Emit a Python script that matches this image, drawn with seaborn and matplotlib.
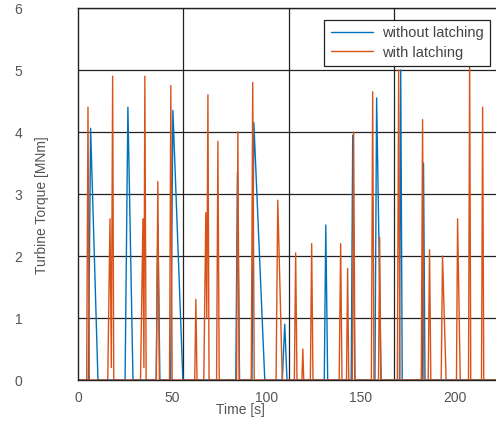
import matplotlib
matplotlib.use("Agg")
import matplotlib.pyplot as plt
from matplotlib.ticker import MultipleLocator
import seaborn as sns
import pandas as pd

# with latching: spike vertices
t_with = [0, 4.6, 5.3, 6.0, 15.8, 17.0, 17.7, 18.4, 19.0, 33.2, 34.5, 35.0, 35.5, 36.2,
          41.6, 42.4, 43.2, 48.6, 49.3, 50.0, 62.0, 62.6, 63.2, 66.8, 67.9, 68.4, 69.0, 69.6,
          73.6, 74.3, 75.0, 84.2, 84.9, 85.6, 92.0, 92.8, 93.6, 105.2, 106.1, 108.5,
          114.9, 115.6, 116.3, 118.9, 119.4, 119.9, 123.4, 124.1, 124.8, 138.7, 139.5, 140.2,
          142.6, 143.2, 143.8, 145.7, 146.4, 147.1, 155.8, 156.5, 157.2, 159.6, 160.2, 160.8,
          169.6, 170.3, 171.0, 182.3, 183.0, 183.7, 186.0, 186.7, 187.4, 192.9, 193.6, 195.5,
          201.0, 201.6, 203.0, 207.4, 208.0, 208.6, 214.3, 214.9, 215.5, 222]
v_with = [0, 0, 4.4, 0, 0, 2.6, 0.2, 4.9, 0, 0, 2.6, 0.2, 4.9, 0,
          0, 3.2, 0, 0, 4.75, 0, 0, 1.3, 0, 0, 2.7, 1.0, 4.6, 0,
          0, 3.85, 0, 0, 4.0, 0, 0, 4.8, 0, 0, 2.9, 0,
          0, 2.05, 0, 0, 0.5, 0, 0, 2.2, 0, 0, 2.2, 0,
          0, 1.8, 0, 0, 4.0, 0, 0, 4.65, 0, 0, 2.3, 0,
          0, 5.0, 0, 0, 4.2, 0, 0, 2.1, 0, 0, 2.0, 0,
          0, 2.6, 0, 0, 5.15, 0, 0, 4.4, 0, 0]

# without latching
t_without = [0, 5.5, 6.7, 10.6, 25.0, 26.5, 29.2, 41.5, 42.4, 43.5, 49.2, 50.4, 55.7,
             83.8, 84.7, 85.8, 92.4, 93.4, 99.2, 108.5, 109.8, 111.0, 130.8, 131.6, 132.6,
             145.1, 145.9, 147.0, 157.7, 158.6, 161.0, 170.7, 171.4, 172.2, 182.8, 183.5, 184.3, 222]
v_without = [0, 0, 4.06, 0, 0, 4.4, 0, 0, 2.5, 0, 0, 4.35, 0,
             0, 3.35, 0, 0, 4.15, 0, 0, 0.9, 0, 0, 2.5, 0,
             0, 3.95, 0, 0, 4.55, 0, 0, 5.0, 0, 0, 3.5, 0, 0]

series_names = ["without latching", "with latching"]
colors = ["#0072BD", "#D95319"]
x_ticks = [0, 50, 100, 150, 200]
y_ticks = [0, 1, 2, 3, 4, 5, 6]

df = pd.concat([
    pd.DataFrame({"Time": t_without, "Torque": v_without, "case": series_names[0]}),
    pd.DataFrame({"Time": t_with, "Torque": v_with, "case": series_names[1]}),
], ignore_index=True)

sns.set_style("white")
plt.rcParams["font.family"] = ["Liberation Sans", "DejaVu Sans"]

fig = plt.figure(figsize=(4.96, 4.32), dpi=100)
ax = fig.add_axes([78 / 496, 52 / 432, 418 / 496, 372 / 432])

sns.lineplot(
    data=df,
    x="Time",
    y="Torque",
    hue="case",
    hue_order=series_names,
    palette=colors,
    sort=False,
    estimator=None,
    linewidth=1.0,
    ax=ax
)

ax.set_xlim(0, 222)
ax.set_ylim(0, 6)
ax.set_xticks(x_ticks)
ax.set_yticks(y_ticks)
ax.xaxis.set_minor_locator(MultipleLocator(56))
ax.grid(True, which="major", axis="y", color="#222222", linewidth=0.9)
ax.grid(True, which="minor", axis="x", color="#222222", linewidth=0.9)
ax.tick_params(axis="both", which="both", length=0, labelsize=10, labelcolor="#555555")
ax.tick_params(axis="y", pad=40)
ax.tick_params(axis="x", pad=8)

for side in ["left", "bottom", "top"]:
    ax.spines[side].set_color("#222222")
    ax.spines[side].set_linewidth(1.0)
ax.spines["right"].set_visible(False)

ax.set_xlabel("Time [s]", fontsize=10, color="#555555")
ax.set_ylabel("Turbine Torque [MNm]", fontsize=10, color="#555555")
ax.xaxis.set_label_coords(0.388, -0.062)
ax.yaxis.set_label_coords(-0.07, 0.47)

leg = ax.legend(
    loc="upper right",
    bbox_to_anchor=(0.986, 0.968),
    fontsize=10.5,
    frameon=True,
    fancybox=False,
    framealpha=1,
    edgecolor="#222222",
    handlelength=2.9,
    handletextpad=0.6,
    borderpad=0.45,
    labelspacing=0.35,
    borderaxespad=0
)
leg.get_frame().set_linewidth(0.9)
for text in leg.get_texts():
    text.set_color("#444444")

fig.savefig("out.png", dpi=100)
